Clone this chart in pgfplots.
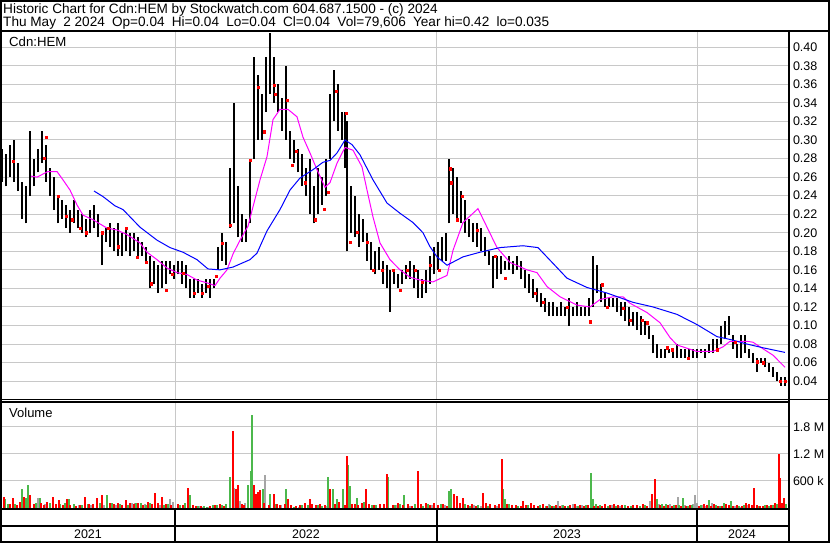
\documentclass[border=0pt]{standalone}
\usepackage{pgfplots}
\usepackage{pgfplotstable}
\pgfplotsset{compat=1.18}
\usepackage{fontspec}
\setmainfont{Liberation Sans}
\definecolor{gridgray}{RGB}{200,200,200}
\definecolor{volred}{RGB}{255,0,0}
\definecolor{volgreen}{RGB}{76,184,76}
\definecolor{volgray}{RGB}{165,165,165}
\definecolor{magma}{RGB}{255,0,255}
\definecolor{bluema}{RGB}{0,0,255}

% x = time position (chart pixel), lo/hi = daily range
\pgfplotstableread{
x lo hi
2 0.255 0.29
6 0.25 0.285
10 0.26 0.295
14 0.255 0.30
18 0.245 0.275
22 0.215 0.255
26 0.21 0.25
30 0.24 0.31
34 0.25 0.28
38 0.265 0.29
42 0.275 0.31
46 0.255 0.295
50 0.24 0.27
54 0.225 0.26
58 0.21 0.24
62 0.215 0.235
66 0.205 0.23
70 0.20 0.225
74 0.21 0.235
78 0.205 0.225
82 0.20 0.22
86 0.195 0.215
90 0.20 0.225
94 0.205 0.23
98 0.195 0.22
102 0.165 0.20
106 0.19 0.205
110 0.185 0.21
114 0.18 0.205
118 0.175 0.21
122 0.175 0.20
126 0.18 0.205
130 0.175 0.20
134 0.18 0.20
138 0.175 0.195
142 0.175 0.19
146 0.17 0.185
150 0.14 0.175
154 0.145 0.17
158 0.135 0.165
162 0.14 0.17
166 0.145 0.17
170 0.155 0.17
174 0.15 0.165
178 0.155 0.17
182 0.145 0.17
186 0.14 0.165
190 0.13 0.15
194 0.13 0.15
198 0.135 0.15
202 0.13 0.145
206 0.135 0.15
210 0.13 0.15
214 0.14 0.15
218 0.16 0.185
222 0.17 0.20
226 0.165 0.19
230 0.205 0.27
234 0.21 0.34
238 0.195 0.25
242 0.19 0.22
246 0.19 0.215
250 0.21 0.28
254 0.28 0.39
258 0.30 0.37
262 0.30 0.35
266 0.33 0.39
270 0.35 0.415
274 0.34 0.39
278 0.33 0.36
282 0.31 0.345
286 0.30 0.38
290 0.28 0.31
294 0.275 0.30
298 0.265 0.29
302 0.25 0.285
306 0.24 0.27
310 0.22 0.28
314 0.21 0.25
318 0.22 0.27
322 0.23 0.26
326 0.24 0.28
330 0.28 0.35
334 0.32 0.375
338 0.31 0.36
342 0.30 0.33
345 0.27 0.33
347 0.18 0.32
351 0.20 0.25
355 0.195 0.24
359 0.185 0.22
363 0.19 0.215
367 0.17 0.20
371 0.16 0.19
375 0.155 0.18
379 0.16 0.185
383 0.145 0.17
387 0.14 0.165
390 0.115 0.16
394 0.145 0.16
398 0.14 0.155
402 0.145 0.16
406 0.15 0.165
410 0.15 0.17
414 0.14 0.165
418 0.13 0.16
422 0.13 0.15
426 0.135 0.16
430 0.145 0.175
434 0.155 0.185
438 0.16 0.19
442 0.17 0.195
446 0.17 0.20
449 0.21 0.28
453 0.22 0.27
457 0.215 0.26
461 0.21 0.245
465 0.20 0.235
469 0.195 0.215
473 0.19 0.21
477 0.185 0.21
481 0.18 0.205
485 0.175 0.195
489 0.165 0.18
493 0.14 0.175
497 0.15 0.175
501 0.155 0.175
505 0.16 0.17
509 0.16 0.175
513 0.155 0.17
517 0.16 0.175
521 0.15 0.17
525 0.14 0.16
529 0.135 0.155
533 0.13 0.15
537 0.125 0.14
541 0.12 0.135
545 0.115 0.13
549 0.11 0.125
553 0.11 0.125
557 0.11 0.12
561 0.11 0.125
565 0.11 0.12
569 0.10 0.13
573 0.11 0.12
577 0.11 0.125
581 0.11 0.12
585 0.11 0.12
589 0.11 0.13
593 0.12 0.175
597 0.135 0.165
601 0.125 0.145
605 0.12 0.135
609 0.12 0.13
613 0.12 0.13
617 0.115 0.13
621 0.11 0.125
625 0.105 0.125
629 0.10 0.12
633 0.10 0.115
637 0.095 0.115
641 0.09 0.11
645 0.09 0.105
649 0.085 0.10
653 0.07 0.09
657 0.065 0.08
661 0.065 0.075
665 0.065 0.075
669 0.07 0.075
673 0.065 0.075
677 0.065 0.08
681 0.065 0.075
685 0.065 0.075
689 0.065 0.075
693 0.065 0.075
697 0.065 0.075
701 0.07 0.075
705 0.065 0.075
709 0.07 0.08
713 0.07 0.085
717 0.075 0.085
721 0.08 0.10
725 0.085 0.105
729 0.09 0.11
733 0.075 0.09
737 0.065 0.08
741 0.065 0.09
745 0.07 0.09
749 0.065 0.075
753 0.06 0.07
757 0.05 0.065
761 0.06 0.065
765 0.055 0.065
769 0.05 0.06
773 0.045 0.055
777 0.04 0.05
781 0.035 0.045
785 0.035 0.045
}\pricedata

\pgfplotstableread{
x c
13 0.277
44 0.28
46 0.303
58 0.239
66 0.218
72 0.214
80 0.205
86 0.20
102 0.20
108 0.205
118 0.185
126 0.205
137 0.174
146 0.168
151 0.145
166 0.138
172 0.155
183 0.156
194 0.135
202 0.135
208 0.142
216 0.153
222 0.189
230 0.208
250 0.278
258 0.357
264 0.309
274 0.359
275 0.349
287 0.343
292 0.273
296 0.288
305 0.254
315 0.214
324 0.225
328 0.244
336 0.353
346 0.329
350 0.190
357 0.201
367 0.19
373 0.16
382 0.16
393 0.16
400 0.138
407 0.16
415 0.16
422 0.147
430 0.165
439 0.16
450 0.269
451 0.254
457 0.214
462 0.239
477 0.203
495 0.175
505 0.151
535 0.135
543 0.125
567 0.12
590 0.104
602 0.144
607 0.12
623 0.119
630 0.106
642 0.106
647 0.103
667 0.076
672 0.074
688 0.065
717 0.074
735 0.082
757 0.061
763 0.060
780 0.04
785 0.04
}\closedots

\pgfplotstableread{
x v
31 0.261
37 0.260
48 0.266
57 0.266
63 0.257
70 0.246
77 0.230
83 0.219
93 0.214
107 0.205
117 0.203
127 0.198
140 0.189
147 0.179
157 0.171
167 0.162
177 0.157
187 0.155
197 0.149
207 0.146
215 0.143
220 0.151
227 0.160
233 0.177
240 0.192
248 0.207
253 0.228
260 0.257
267 0.282
273 0.322
280 0.333
288 0.333
297 0.325
303 0.303
310 0.286
317 0.268
325 0.249
330 0.254
337 0.275
345 0.292
353 0.289
362 0.271
367 0.246
373 0.217
380 0.189
390 0.171
400 0.160
410 0.152
420 0.149
433 0.147
447 0.154
453 0.181
463 0.211
478 0.226
487 0.206
497 0.184
510 0.168
527 0.160
537 0.157
547 0.142
560 0.131
577 0.122
590 0.120
600 0.128
613 0.131
623 0.131
630 0.124
647 0.114
660 0.103
670 0.087
677 0.079
697 0.072
713 0.072
723 0.077
730 0.083
747 0.083
753 0.082
760 0.077
773 0.068
785 0.055
}\maShort

\pgfplotstableread{
x v
94 0.245
103 0.239
115 0.229
123 0.225
140 0.206
157 0.192
170 0.184
183 0.179
197 0.171
208 0.161
220 0.160
233 0.163
250 0.171
257 0.178
267 0.202
280 0.225
290 0.246
300 0.259
313 0.268
323 0.276
330 0.278
337 0.286
345 0.300
352 0.295
360 0.284
373 0.257
387 0.232
400 0.221
413 0.211
423 0.200
430 0.185
437 0.174
447 0.165
463 0.174
480 0.179
500 0.184
523 0.186
538 0.184
553 0.167
567 0.151
587 0.141
607 0.135
620 0.130
633 0.125
653 0.120
677 0.112
697 0.101
717 0.088
730 0.085
747 0.080
763 0.076
785 0.071
}\maLong

% volume in thousands
\pgfplotstableread{
x v
4 240
10 90
13 220
17 60
20 130
24 240
30 290
34 80
41 110
44 70
47 130
53 240
56 90
59 180
63 70
67 190
70 60
76 50
80 70
85 240
89 80
93 90
97 220
102 290
110 120
114 80
118 110
122 70
126 180
130 100
134 90
138 120
143 70
148 130
152 80
155 330
158 120
162 240
166 90
171 60
178 90
183 60
188 440
193 60
196 50
201 40
210 40
215 60
220 80
224 40
233 1710
236 420
238 500
242 90
244 60
254 500
256 320
258 360
260 400
264 110
269 70
274 320
277 80
280 60
285 90
288 200
291 70
296 40
300 60
305 100
310 200
312 90
316 60
320 80
325 60
330 420
335 90
339 140
345 60
347 1160
352 90
355 80
358 60
362 120
366 420
369 90
374 60
380 80
384 90
387 760
393 60
398 110
403 70
408 90
412 50
418 820
421 80
426 110
430 60
434 100
438 60
443 80
447 40
454 300
457 270
460 100
463 220
468 60
472 80
476 50
483 330
486 110
490 90
495 60
499 80
502 1090
507 90
512 70
516 60
521 50
523 160
526 70
531 120
534 60
538 40
543 80
547 50
552 40
556 60
560 40
565 50
570 60
575 80
580 70
584 40
588 60
594 40
598 50
602 40
605 90
610 60
614 80
618 70
622 60
628 40
633 70
637 60
643 80
647 40
652 300
655 640
660 60
664 50
668 70
672 40
676 60
681 50
686 40
690 60
699 40
704 80
707 60
711 40
714 90
718 50
722 40
726 80
729 60
733 40
737 60
742 40
746 110
749 80
752 60
754 440
757 60
760 50
763 40
767 70
771 60
775 120
779 1200
780 670
782 100
784 220
}\volred

\pgfplotstableread{
x v
5 200
8 80
15 90
22 420
26 220
28 510
36 100
40 220
50 120
60 90
65 110
69 200
74 80
82 60
88 90
100 100
107 290
112 120
120 90
128 60
136 120
141 100
146 70
150 110
164 60
168 90
180 60
185 110
190 290
198 40
204 40
207 30
213 60
217 60
222 70
226 80
230 690
248 510
251 820
252 2070
263 420
270 320
276 80
286 420
294 30
302 60
308 70
318 60
322 40
328 690
333 420
337 200
343 420
348 960
350 490
357 220
364 130
372 60
376 70
388 690
395 60
400 80
404 290
415 90
423 40
428 90
441 90
449 380
451 420
465 80
470 40
478 60
488 50
503 420
505 200
509 90
518 40
528 60
540 60
546 50
550 70
554 40
563 60
568 50
578 40
586 60
591 780
593 200
596 80
600 60
608 40
616 50
625 60
631 40
640 50
645 60
657 200
662 80
666 90
674 70
679 60
683 220
688 50
692 60
701 70
709 180
716 60
720 50
724 100
731 160
739 40
744 70
759 50
765 60
769 40
773 60
777 80
786 90
}\volgreen

\pgfplotstableread{
x v
1 470
38 220
45 90
79 60
91 70
104 60
116 70
132 100
135 110
145 90
160 70
167 60
170 200
173 130
199 40
203 30
209 30
234 440
240 160
245 120
265 730
281 60
299 30
319 70
326 50
397 60
410 40
432 70
445 60
474 60
481 40
497 40
549 90
558 150
562 60
573 80
576 40
582 60
612 60
620 40
650 160
659 80
670 90
678 240
685 60
693 90
695 280
697 110
702 60
706 40
712 120
735 50
741 30
748 60
}\volgray

\newcommand{\gap}{\hspace{7.2pt}}
\begin{document}
\begin{tikzpicture}
\useasboundingbox (0pt,0pt) rectangle (830pt,543pt);
\fill[white] (0pt,0pt) rectangle (830pt,543pt);

% ---------- price panel ----------
\begin{axis}[
  at={(2pt,143pt)}, anchor=south west,
  scale only axis, width=786pt, height=369pt,
  xmin=2, xmax=788, ymin=0.0197, ymax=0.4175,
  axis line style={draw=none},
  major tick length=0pt,
  xtick={175,436,697}, xticklabels={},
  ytick={0.04,0.06,0.08,0.10,0.12,0.14,0.16,0.18,0.20,0.22,0.24,0.26,0.28,0.30,0.32,0.34,0.36,0.38,0.40},
  yticklabel pos=right,
  yticklabel style={font=\fontsize{12.5}{14}\selectfont, anchor=west, xshift=1.5pt},
  /pgf/number format/.cd, fixed, fixed zerofill, precision=2, assume math mode=true,
  /pgfplots/.cd,
  xmajorgrids, ymajorgrids,
  grid style={gridgray, line width=1pt},
  clip=true,
]
\addplot[draw=none, mark=none,
  error bars/.cd, y dir=plus, y explicit, error mark=none,
  error bar style={draw=black, line width=2.2pt}]
  table[x=x, y=lo, y error expr=\thisrow{hi}-\thisrow{lo}] {\pricedata};
\addplot[only marks, mark=square*, mark size=1.1pt, volred, mark options={draw=volred, fill=volred}] table[x=x, y=c] {\closedots};
\addplot[magma, line width=1pt, mark=none] table[x=x, y=v] {\maShort};
\addplot[bluema, line width=1pt, mark=none] table[x=x, y=v] {\maLong};
\end{axis}

% ---------- volume panel ----------
\begin{axis}[
  at={(2pt,35pt)}, anchor=south west,
  scale only axis, width=786pt, height=105pt,
  xmin=2, xmax=788, ymin=0, ymax=2333,
  axis line style={draw=none},
  major tick length=0pt,
  xtick={175,436,697}, xticklabels={},
  ytick={600,1200,1800}, yticklabels={600 k,1.2 M,1.8 M},
  yticklabel pos=right,
  yticklabel style={font=\fontsize{12.5}{14}\selectfont, anchor=west, xshift=1.5pt},
  xmajorgrids, ymajorgrids,
  grid style={gridgray, line width=1pt},
  clip=true,
]
\addplot[ycomb, volgray, line width=1.8pt, mark=none] table[x=x, y=v] {\volgray};
\addplot[ycomb, volgreen, line width=1.8pt, mark=none] table[x=x, y=v] {\volgreen};
\addplot[ycomb, volred, line width=1.8pt, mark=none] table[x=x, y=v] {\volred};
\end{axis}

% ---------- frame and text ----------
\draw[line width=2pt] (1pt,1pt) rectangle (829pt,542pt);
\draw[line width=2pt] (0pt,512pt) -- (830pt,512pt);
\draw[line width=2pt] (789pt,0pt) -- (789pt,512pt);
\draw[line width=1pt] (0pt,143.5pt) -- (830pt,143.5pt);
\draw[line width=2pt] (0pt,140.5pt) -- (789pt,140.5pt);
\draw[line width=2pt] (0pt,33.5pt) -- (789pt,33.5pt);
\draw[line width=2pt] (0pt,16.5pt) -- (789pt,16.5pt);
\foreach \xx in {175,437,697} {\draw[line width=1.2pt] (\xx pt,1pt) -- (\xx pt,33.5pt);}

\node[anchor=west, inner sep=0pt, font=\fontsize{13.6}{15}\selectfont] at (3pt,533.5pt)
  {Historic Chart for Cdn:HEM by Stockwatch.com 604.687.1500 - (c) 2024};
\node[anchor=west, inner sep=0pt, font=\fontsize{13.6}{15}\selectfont] at (3pt,520.5pt)
  {Thu May\gap 2 2024\gap Op=0.04\gap Hi=0.04\gap Lo=0.04\gap Cl=0.04\gap Vol=79,606\gap Year hi=0.42\gap lo=0.035};
\node[anchor=west, inner sep=0pt, font=\fontsize{13.2}{15}\selectfont] at (9pt,501pt) {Cdn:HEM};
\node[anchor=west, inner sep=0pt, font=\fontsize{13}{15}\selectfont] at (9pt,130pt) {Volume};

\foreach \yy/\cx in {2021/88,2022/306,2023/567,2024/742}
  {\node[inner sep=0pt, font=\fontsize{12.5}{14}\selectfont] at (\cx pt,8.5pt) {\yy};}
\end{tikzpicture}
\end{document}
